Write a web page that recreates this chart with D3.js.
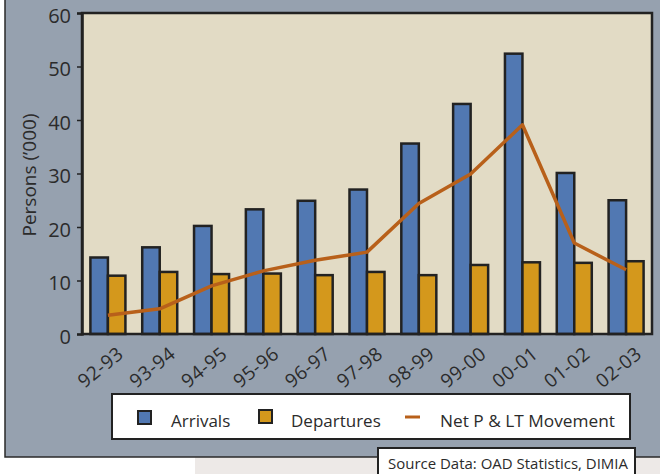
<!DOCTYPE html>
<html>
<head>
<meta charset="utf-8">
<script src="https://cdn.jsdelivr.net/npm/d3@7"></script>
<style>
  html, body { margin: 0; padding: 0; background: #ffffff; }
  svg { display: block; }
  text { font-family: "Open Sans", "Noto Sans", sans-serif; fill: #2b2b2b; }
</style>
</head>
<body>
<svg id="chart" width="660" height="474"></svg>
<script>
// Financial years shown on the x axis
const years = ["92-93", "93-94", "94-95", "95-96", "96-97", "97-98", "98-99", "99-00", "00-01", "01-02", "02-03"];
// Permanent and long-term movements, thousands of persons
const arrivals   = [14.3, 16.2, 20.2, 23.3, 24.9, 27.0, 35.6, 43.0, 52.4, 30.1, 25.0];
const departures = [10.9, 11.6, 11.2, 11.3, 11.0, 11.6, 11.0, 12.9, 13.4, 13.3, 13.6];
const netMovement = [3.5, 4.7, 9.0, 11.8, 13.8, 15.3, 24.4, 29.9, 39.1, 17.0, 12.0];
const yTicks = [0, 10, 20, 30, 40, 50, 60];
const seriesNames = ["Arrivals", "Departures", "Net P & LT Movement"];
const sourceNote = "Source Data: OAD Statistics, DIMIA";

const colors = {
  panel: "#96a1af",
  plot: "#e2dbc5",
  arrivals: "#5178b2",
  departures: "#d4981c",
  net: "#b8601a",
  ink: "#222222"
};

const svg = d3.select("#chart");

// page backdrop below the panel
svg.append("rect").attr("x", 0).attr("y", 0).attr("width", 660).attr("height", 474).attr("fill", "#ffffff");
svg.append("rect").attr("x", 195).attr("y", 457).attr("width", 465).attr("height", 17).attr("fill", "#ede9e7");

// grey panel
svg.append("rect").attr("x", 5).attr("y", -5).attr("width", 660).attr("height", 462)
  .attr("fill", colors.panel).attr("stroke", "#2a2a2a").attr("stroke-width", 1.5);

const plot = { left: 82, right: 652, top: 13, bottom: 334 };

const x0 = d3.scaleBand().domain(years).range([plot.left, plot.right]).padding(0);
const x1 = d3.scaleBand().domain(["arr", "dep"]).range([0, x0.bandwidth()]).paddingInner(0).paddingOuter(0.48);
const y = d3.scaleLinear().domain([0, 60]).range([plot.bottom, plot.top]);

// plot background
svg.append("rect")
  .attr("x", plot.left).attr("y", plot.top)
  .attr("width", plot.right - plot.left).attr("height", plot.bottom - plot.top)
  .attr("fill", colors.plot);

// bars
const groups = svg.append("g").selectAll("g").data(years).join("g")
  .attr("transform", d => `translate(${x0(d)},0)`);

groups.append("rect")
  .attr("x", x1("arr")).attr("width", x1.bandwidth())
  .attr("y", (d, i) => y(arrivals[i]))
  .attr("height", (d, i) => y(0) - y(arrivals[i]))
  .attr("fill", colors.arrivals).attr("stroke", colors.ink).attr("stroke-width", 2.5);

groups.append("rect")
  .attr("x", x1("dep")).attr("width", x1.bandwidth())
  .attr("y", (d, i) => y(departures[i]))
  .attr("height", (d, i) => y(0) - y(departures[i]))
  .attr("fill", colors.departures).attr("stroke", colors.ink).attr("stroke-width", 2.5);

// net movement line
const line = d3.line()
  .x((d, i) => x0(years[i]) + x0.bandwidth() / 2)
  .y(d => y(d));
svg.append("path").datum(netMovement)
  .attr("d", line).attr("fill", "none")
  .attr("stroke", colors.net).attr("stroke-width", 3.5).attr("stroke-linejoin", "round");

// frame
svg.append("rect")
  .attr("x", plot.left).attr("y", plot.top)
  .attr("width", plot.right - plot.left).attr("height", plot.bottom - plot.top)
  .attr("fill", "none").attr("stroke", colors.ink).attr("stroke-width", 2.5);

// y axis
const yAxis = svg.append("g")
  .attr("transform", `translate(${plot.left},0)`)
  .call(d3.axisLeft(y).tickValues(yTicks).tickSize(5).tickPadding(6).tickFormat(d3.format("d")));
yAxis.select(".domain").attr("stroke", colors.ink).attr("stroke-width", 2.5);
yAxis.selectAll(".tick line").attr("stroke", colors.ink).attr("stroke-width", 1.5);
yAxis.selectAll(".tick text").style("font-size", "20px").attr("dy", "0.45em").attr("fill", "#2b2b2b");

// x axis labels
const xAxis = svg.append("g")
  .attr("transform", `translate(0,${plot.bottom})`)
  .call(d3.axisBottom(x0).tickSize(0).tickPadding(0));
xAxis.select(".domain").remove();
xAxis.selectAll(".tick text")
  .style("font-size", "19px")
  .style("letter-spacing", "0.5px")
  .attr("text-anchor", "end")
  .attr("dy", 0)
  .attr("y", 0)
  .attr("transform", "translate(17,22) rotate(-39)")
  .attr("fill", "#2b2b2b");

// y axis title
svg.append("text")
  .attr("transform", "translate(36,175) rotate(-90)")
  .attr("text-anchor", "middle")
  .style("font-size", "19px")
  .text("Persons (\u2019000)");

// legend
const legend = svg.append("g");
legend.append("rect").attr("x", 112).attr("y", 394).attr("width", 518).attr("height", 45)
  .attr("fill", "#ffffff").attr("stroke", colors.ink).attr("stroke-width", 2);
legend.append("rect").attr("x", 138).attr("y", 411).attr("width", 13).attr("height", 13)
  .attr("fill", colors.arrivals).attr("stroke", colors.ink).attr("stroke-width", 2);
legend.append("text").attr("x", 171).attr("y", 427).style("font-size", "17px").text(seriesNames[0]);
legend.append("rect").attr("x", 259).attr("y", 410).attr("width", 13).attr("height", 13)
  .attr("fill", colors.departures).attr("stroke", colors.ink).attr("stroke-width", 2);
legend.append("text").attr("x", 291).attr("y", 427).style("font-size", "17px").text(seriesNames[1]);
legend.append("line").attr("x1", 405).attr("x2", 420).attr("y1", 417).attr("y2", 417)
  .attr("stroke", colors.net).attr("stroke-width", 3);
legend.append("text").attr("x", 440).attr("y", 427).style("font-size", "17px")
  .attr("textLength", 175).attr("lengthAdjust", "spacingAndGlyphs").text(seriesNames[2]);

// source note
const src = svg.append("g");
src.append("rect").attr("x", 378).attr("y", 448).attr("width", 257).attr("height", 30)
  .attr("fill", "#ffffff").attr("stroke", colors.ink).attr("stroke-width", 2);
src.append("text").attr("x", 388).attr("y", 469).style("font-size", "15px")
  .attr("textLength", 240).attr("lengthAdjust", "spacingAndGlyphs").text(sourceNote);
</script>
</body>
</html>
